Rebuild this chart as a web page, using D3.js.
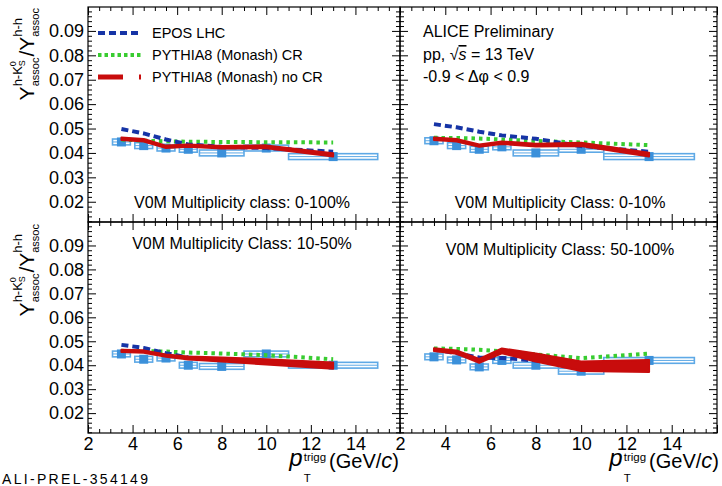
<!DOCTYPE html>
<html><head><meta charset="utf-8">
<script src="https://cdn.jsdelivr.net/npm/d3@7"></script>
<style>
body{margin:0;background:#fff}
svg{display:block}
text{font-family:"Liberation Sans",Arial,Helvetica,sans-serif;fill:#000}
</style>
</head><body>
<svg id="c" width="722" height="486"></svg>
<script>
// ---------- data ----------
const pT = [3.5, 4.5, 5.5, 6.5, 8, 10, 13];
const binHalf = [0.4, 0.4, 0.4, 0.4, 1, 1, 2];
const yTicks = [0.02, 0.03, 0.04, 0.05, 0.06, 0.07, 0.08, 0.09];
const yMinor = [0.012,0.014,0.016,0.018,0.022,0.024,0.026,0.028,0.032,0.034,0.036,0.038,0.042,0.044,0.046,0.048,0.052,0.054,0.056,0.058,0.062,0.064,0.066,0.068,0.072,0.074,0.076,0.078,0.082,0.084,0.086,0.088,0.092,0.094,0.096,0.098];
const xTicks = [2, 4, 6, 8, 10, 12, 14, 16];
const xMinor = [2.5,3,3.5,4.5,5,5.5,6.5,7,7.5,8.5,9,9.5,10.5,11,11.5,12.5,13,13.5,14.5,15,15.5];
const xLabelTicks = [2, 4, 6, 8, 10, 12, 14];

const panelLabels = ["V0M Multiplicity class: 0-100%", "V0M Multiplicity Class: 0-10%",
                     "V0M Multiplicity Class: 10-50%", "V0M Multiplicity Class: 50-100%"];
const legendNames = ["EPOS LHC", "PYTHIA8 (Monash) CR", "PYTHIA8 (Monash) no CR"];

// measured ratio (data)
const data0_100  = [0.0445, 0.0430, 0.0420, 0.0415, 0.0400, 0.0420, 0.0385];
const data0_10   = [0.0450, 0.0430, 0.0415, 0.0425, 0.0400, 0.0415, 0.0385];
const data10_50  = [0.0447, 0.0425, 0.0430, 0.0400, 0.0395, 0.0447, 0.0400];
const data50_100 = [0.0435, 0.0422, 0.0393, 0.0420, 0.0400, 0.0375, 0.0420];
const sys0_100   = [0.0012, 0.0012, 0.0012, 0.0012, 0.0012, 0.0012, 0.0012];
const sys0_10    = [0.0012, 0.0012, 0.0012, 0.0012, 0.0012, 0.0012, 0.0012];
const sys10_50   = [0.0012, 0.0012, 0.0012, 0.0012, 0.0012, 0.0012, 0.0012];
const sys50_100  = [0.0012, 0.0012, 0.0012, 0.0012, 0.0012, 0.0012, 0.0012];

// EPOS LHC
const epos0_100  = [0.0498, 0.0480, 0.0455, 0.0435, 0.0425, 0.0420, 0.0405];
const epos0_10   = [0.0518, 0.0505, 0.0487, 0.0472, 0.0458, 0.0428, 0.0405];
const epos10_50  = [0.0485, 0.0472, 0.0450, 0.0432, 0.0422, 0.0415, 0.0400];
const epos50_100 = [0.0465, 0.0450, 0.0432, 0.0430, 0.0420, 0.0405, 0.0405];

// PYTHIA8 Monash CR
const cr0_100  = [0.0455, 0.0450, 0.0448, 0.0446, 0.0445, 0.0444, 0.0443];
const cr0_10   = [0.0462, 0.0461, 0.0459, 0.0455, 0.0449, 0.0443, 0.0432];
const cr10_50  = [0.0460, 0.0459, 0.0457, 0.0453, 0.0449, 0.0442, 0.0425];
const cr50_100 = [0.0470, 0.0468, 0.0465, 0.0458, 0.0445, 0.0430, 0.0448];

// PYTHIA8 Monash no CR (value and band half-width)
const nocr0_100  = [0.0458, 0.0452, 0.0425, 0.0430, 0.0423, 0.0425, 0.0392];
const nocr0_10   = [0.0458, 0.0452, 0.0430, 0.0442, 0.0432, 0.0435, 0.0393];
const nocr10_50  = [0.0460, 0.0457, 0.0440, 0.0430, 0.0424, 0.0414, 0.0398];
const nocr50_100 = [0.0465, 0.0455, 0.0418, 0.0460, 0.0432, 0.0396, 0.0397];
const nocrErr0_100  = [0.0005, 0.0005, 0.0005, 0.0005, 0.0005, 0.0006, 0.0007];
const nocrErr0_10   = [0.0005, 0.0005, 0.0005, 0.0005, 0.0006, 0.0007, 0.0008];
const nocrErr10_50  = [0.0005, 0.0005, 0.0005, 0.0006, 0.0008, 0.0011, 0.0013];
const nocrErr50_100 = [0.0006, 0.0007, 0.0008, 0.0010, 0.0017, 0.0020, 0.0025];

// ---------- layout ----------
const svg = d3.select('#c');
const cols = [{x0: 88, x1: 400}, {x0: 400, x1: 717}];
const rows = [{y0: 7, y1: 222}, {y0: 222, y1: 433}];
const C = {epos: '#1634a6', cr: '#38cc30', nocr: '#c80c0c', mark: '#3b90da', box: '#5ea9e6'};

const panels = [
  {col:0,row:0,label:panelLabels[0],lx:242,ly:208,data:data0_100,sys:sys0_100,epos:epos0_100,cr:cr0_100,nocr:nocr0_100,err:nocrErr0_100},
  {col:1,row:0,label:panelLabels[1],lx:560,ly:208,data:data0_10,sys:sys0_10,epos:epos0_10,cr:cr0_10,nocr:nocr0_10,err:nocrErr0_10},
  {col:0,row:1,label:panelLabels[2],lx:242,ly:249,data:data10_50,sys:sys10_50,epos:epos10_50,cr:cr10_50,nocr:nocr10_50,err:nocrErr10_50},
  {col:1,row:1,label:panelLabels[3],lx:560,ly:255,data:data50_100,sys:sys50_100,epos:epos50_100,cr:cr50_100,nocr:nocr50_100,err:nocrErr50_100}
];

function styleAxis(g){
  g.select('.domain').remove();
  g.selectAll('line').attr('stroke','#000').attr('stroke-width',1);
  g.selectAll('text').attr('font-family','"Liberation Sans",Arial,sans-serif').attr('font-size',18).attr('fill','#000');
}

panels.forEach(p => {
  const c = cols[p.col], r = rows[p.row];
  const xs = d3.scaleLinear().domain([2,16]).range([c.x0, c.x1]);
  const ys = d3.scaleLinear().domain([0.0117,0.0998]).range([r.y1, r.y0]);
  const g = svg.append('g');
  const clipId = 'clip'+p.col+p.row;
  svg.append('clipPath').attr('id',clipId).append('rect')
    .attr('x',c.x0).attr('y',r.y0).attr('width',c.x1-c.x0).attr('height',r.y1-r.y0);
  const plot = g.append('g').attr('clip-path',`url(#${clipId})`);
  const idx = d3.range(pT.length);

  // systematic boxes
  plot.selectAll('rect.sys').data(idx).join('rect').attr('class','sys')
    .attr('x', i => xs(pT[i]-binHalf[i])).attr('width', i => xs(pT[i]+binHalf[i]) - xs(pT[i]-binHalf[i]))
    .attr('y', i => ys(p.data[i]+p.sys[i])).attr('height', i => ys(p.data[i]-p.sys[i]) - ys(p.data[i]+p.sys[i]))
    .attr('fill','none').attr('stroke',C.box).attr('stroke-width',1.6);
  plot.selectAll('line.sysmid').data(idx).join('line').attr('class','sysmid')
    .attr('x1', i => xs(pT[i]-binHalf[i])).attr('x2', i => xs(pT[i]+binHalf[i]))
    .attr('y1', i => ys(p.data[i])).attr('y2', i => ys(p.data[i]))
    .attr('stroke',C.box).attr('stroke-width',1);
  // markers
  plot.selectAll('rect.mk').data(idx).join('rect').attr('class','mk')
    .attr('x', i => xs(pT[i])-4.5).attr('y', i => ys(p.data[i])-4.5).attr('width',9).attr('height',9)
    .attr('fill',C.mark);

  const line = arr => d3.line().x(i => xs(pT[i])).y(i => ys(arr[i]))(idx);
  // PYTHIA CR (green dotted)
  plot.append('path').attr('d', line(p.cr)).attr('fill','none').attr('stroke',C.cr)
    .attr('stroke-width',4).attr('stroke-dasharray','3.5,4');
  // EPOS (blue dashed)
  plot.append('path').attr('d', line(p.epos)).attr('fill','none').attr('stroke',C.epos)
    .attr('stroke-width',4).attr('stroke-dasharray','7,4');
  // PYTHIA no CR (red band)
  const area = d3.area().x(i => xs(pT[i])).y0(i => ys(p.nocr[i]-p.err[i])).y1(i => ys(p.nocr[i]+p.err[i]));
  plot.append('path').attr('d', area(idx)).attr('fill',C.nocr).attr('stroke',C.nocr)
    .attr('stroke-width',2).attr('stroke-linejoin','round');

  // axes (ticks inward)
  const yl = g.append('g').attr('transform',`translate(${c.x0},0)`)
    .call(d3.axisLeft(ys).tickValues(yTicks).tickSize(-8).tickPadding(4)
      .tickFormat(p.col===0 ? d3.format('.2f') : ''));
  styleAxis(yl);
  styleAxis(g.append('g').attr('transform',`translate(${c.x0},0)`).call(d3.axisLeft(ys).tickValues(yMinor).tickSize(-4).tickFormat('')));
  styleAxis(g.append('g').attr('transform',`translate(${c.x1},0)`).call(d3.axisRight(ys).tickValues(yTicks).tickSize(-8).tickFormat('')));
  styleAxis(g.append('g').attr('transform',`translate(${c.x1},0)`).call(d3.axisRight(ys).tickValues(yMinor).tickSize(-4).tickFormat('')));
  styleAxis(g.append('g').attr('transform',`translate(0,${r.y0})`).call(d3.axisTop(xs).tickValues(xTicks).tickSize(-8).tickFormat('')));
  styleAxis(g.append('g').attr('transform',`translate(0,${r.y0})`).call(d3.axisTop(xs).tickValues(xMinor).tickSize(-4).tickFormat('')));
  const xb = g.append('g').attr('transform',`translate(0,${r.y1})`)
    .call(d3.axisBottom(xs).tickValues(xTicks).tickSize(-8).tickPadding(4)
      .tickFormat(d => (p.row===1 && xLabelTicks.includes(d)) ? d : ''));
  styleAxis(xb);
  styleAxis(g.append('g').attr('transform',`translate(0,${r.y1})`).call(d3.axisBottom(xs).tickValues(xMinor).tickSize(-4).tickFormat('')));

  // frame
  g.append('rect').attr('x',c.x0).attr('y',r.y0).attr('width',c.x1-c.x0).attr('height',r.y1-r.y0)
    .attr('fill','none').attr('stroke','#000').attr('stroke-width',1.2);

  // label
  g.append('text').attr('x',p.lx).attr('y',p.ly).attr('text-anchor','middle')
    .attr('font-size',16).text(p.label);
});

// ---------- legend ----------
const leg = svg.append('g');
const legY = [33, 55, 77];
leg.append('line').attr('x1',98).attr('x2',141).attr('y1',legY[0]).attr('y2',legY[0])
  .attr('stroke',C.epos).attr('stroke-width',4).attr('stroke-dasharray','7,4');
leg.append('line').attr('x1',98).attr('x2',141).attr('y1',legY[1]).attr('y2',legY[1])
  .attr('stroke',C.cr).attr('stroke-width',4).attr('stroke-dasharray','3.5,3');
leg.append('line').attr('x1',98).attr('x2',123).attr('y1',legY[2]).attr('y2',legY[2])
  .attr('stroke',C.nocr).attr('stroke-width',5);
leg.append('line').attr('x1',139).attr('x2',141).attr('y1',legY[2]).attr('y2',legY[2])
  .attr('stroke',C.nocr).attr('stroke-width',5);
legendNames.forEach((n,i) => leg.append('text').attr('x',152).attr('y',legY[i]+5).attr('font-size',14.5).text(n));

// ---------- ALICE text ----------
const at = svg.append('g').attr('font-size',16);
at.append('text').attr('x',423).attr('y',37).text('ALICE Preliminary');
const ppt = at.append('text').attr('x',423).attr('y',60);
ppt.append('tspan').text('pp, \u221A');
ppt.append('tspan').style('font-style','italic').style('text-decoration','overline').text('s');
ppt.append('tspan').text(' = 13 TeV');
at.append('text').attr('x',423).attr('y',82).text('-0.9 < \u0394\u03C6 < 0.9');

// ---------- axis titles ----------
function mk(g, str, x, y, size, opts={}) {
  const t = g.append('text').attr('x',x).attr('y',y).attr('font-size',size).text(str);
  if (opts.serif) t.attr('font-family','"Liberation Serif","Times New Roman",serif');
  if (opts.italic) t.attr('font-style','italic');
  return t.node().getComputedTextLength();
}
function yTitle(xBase, yTop) {
  const g = svg.append('g');
  let x = 0;
  x += mk(g,'Y',x,0,21);
  const wh = mk(g,'h-K',x,-12,13);
  const w0 = mk(g,'0',x+wh,-18,9);
  const wS = mk(g,'S',x+wh,-9,9);
  const wa = mk(g,'assoc',x,5,11);
  x += Math.max(wh+Math.max(w0,wS), wa) + 1;
  x += mk(g,'/',x,0,21);
  x += mk(g,'Y',x,0,21);
  const wh2 = mk(g,'h-h',x,-12,13);
  const wa2 = mk(g,'assoc',x,5,11);
  x += Math.max(wh2, wa2);
  g.attr('transform',`translate(${xBase},${yTop + x}) rotate(-90)`);
}
yTitle(34, 8);
yTitle(34, 224);

function xTitle(xRight) {
  const g = svg.append('g');
  let x = 0;
  x += mk(g,'p',x,466,24,{serif:true,italic:true}) + 1;
  const w1 = mk(g,'trigg',x,461,11.5);
  const w2 = mk(g,'T',x,482,11.5);
  x += Math.max(w1,w2) + 3;
  x += mk(g,'(GeV/',x,468,20);
  x += mk(g,'c',x,468,22,{serif:true,italic:true});
  x += mk(g,')',x,468,20);
  g.attr('transform',`translate(${xRight - x},0)`);
}
xTitle(399);
xTitle(719);

svg.append('text').attr('x',2).attr('y',484).attr('font-family','"Liberation Mono","Courier New",monospace')
  .attr('font-size',14).attr('fill','#a0a0a0').attr('textLength',146).text('ALI-PREL-354149');
</script>
</body></html>
